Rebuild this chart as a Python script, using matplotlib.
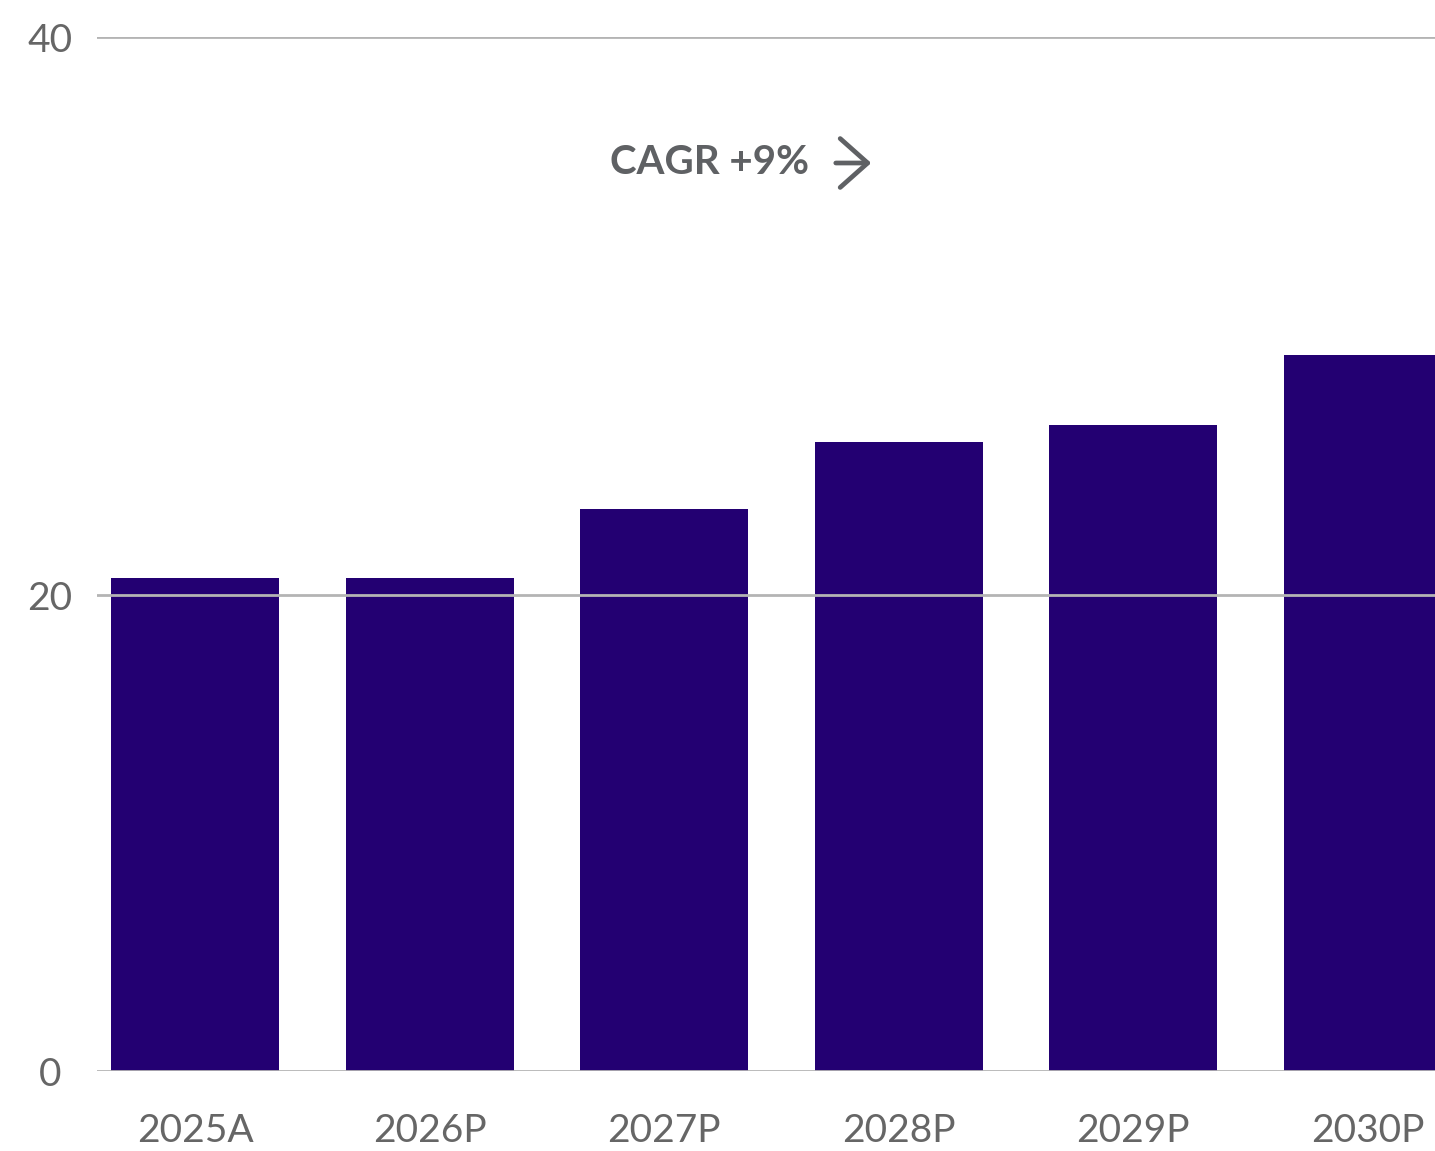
import matplotlib
matplotlib.use("Agg")
import matplotlib.pyplot as plt
import numpy as np

years = ["2025A", "2026P", "2027P", "2028P", "2029P", "2030P"]
values = [20.6, 20.6, 23.1, 25.5, 26.1, 28.6]
yticks = [0, 20, 40]
cagr_label = "CAGR +9%"

bar_color = "#230072"
grid_color = "#b4b4b4"
text_color = "#666666"

# the source chart's upper half is drawn a bit stretched: piecewise scale
k = 558 / 476


def fwd(y):
    y = np.asarray(y, dtype=float)
    return np.where(y <= 20, y, 20 + (y - 20) * k)


def inv(y):
    y = np.asarray(y, dtype=float)
    return np.where(y <= 20, y, 20 + (y - 20) / k)


plt.rcParams["font.family"] = ["Lato", "DejaVu Sans"]

fig = plt.figure(figsize=(14.35, 11.51), dpi=100)
ax = fig.add_axes([97 / 1435, 80 / 1151, 1 - 97 / 1435, (1071 - 37) / 1151])
ax.set_yscale("function", functions=(fwd, inv))

x = np.arange(len(years))
ax.bar(x, values, width=0.716, color=bar_color, zorder=1)

ax.set_ylim(0, 40)
ax.set_xlim(-0.418, 5.286)
ax.set_yticks(yticks)
ax.set_yticklabels([str(t) for t in yticks])
ax.yaxis.set_minor_locator(matplotlib.ticker.NullLocator())
ax.grid(axis="y", color=grid_color, linewidth=2, zorder=2)
ax.set_axisbelow(False)
ax.set_xticks(x)
ax.set_xticklabels(years)

for s in ax.spines.values():
    s.set_visible(False)
ax.tick_params(axis="both", length=0, labelsize=28, labelcolor=text_color)
ax.tick_params(axis="x", pad=30)
ax.tick_params(axis="y", pad=34)
for lab in ax.get_yticklabels():
    lab.set_horizontalalignment("center")

fig.text(610 / 1435, 1 - 163 / 1151, cagr_label, fontsize=29, fontweight="bold",
         color="#5f6164", ha="left", va="center")
fig.add_artist(matplotlib.patches.FancyArrowPatch(
    (833 / 1435, 1 - 163 / 1151), (874 / 1435, 1 - 163 / 1151),
    transform=fig.transFigure, arrowstyle="->,head_length=0.9,head_width=0.8",
    color="#5f6164", lw=3.4, capstyle="round", joinstyle="round", mutation_scale=22))

plt.savefig("out.png", dpi=100)
